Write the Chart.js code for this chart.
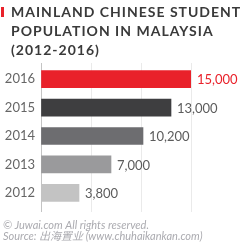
<!DOCTYPE html>
<html>
<head>
<meta charset="utf-8">
<script src="https://cdn.jsdelivr.net/npm/chart.js@4/dist/chart.umd.min.js"></script>
<style>
html,body{margin:0;padding:0;background:#fff;}
#wrap{position:relative;width:250px;height:244px;}
</style>
</head>
<body>
<div id="wrap"><canvas id="c" width="250" height="244"></canvas></div>
<script>
const titleLines = ['MAINLAND CHINESE STUDENT', 'POPULATION IN MALAYSIA', '(2012-2016)'];
const footerLines = ['\u00A9 Juwai.com All rights reserved.', 'Source: \u51FA\u6D77\u7F6E\u4E1A (www.chuhaikankan.com)'];
const years = ['2016', '2015', '2014', '2013', '2012'];
const students = [15000, 13000, 10200, 7000, 3800];
const barColors = ['#e9212a', '#3e3e40', '#6d6d70', '#9a9a9c', '#c3c3c3'];
const labelColors = ['#e9212a', '#5c5c5c', '#5c5c5c', '#5c5c5c', '#5c5c5c'];
const xTickValues = [0, 5000, 10000, 15000];

const textPlugin = {
  id: 'texts',
  beforeDraw(chart) {
    const ctx = chart.ctx;
    ctx.save();
    ctx.fillStyle = '#e9212a';
    ctx.fillRect(1, 7, 3, 10);
    ctx.fillStyle = '#3a3a3a';
    ctx.font = '700 14px Lato, "Noto Sans", sans-serif';
    ctx.letterSpacing = '1px';
    ctx.textBaseline = 'alphabetic';
    ctx.textAlign = 'left';
    const ty = [17, 36, 55];
    titleLines.forEach((t, i) => ctx.fillText(t, 11, ty[i]));
    ctx.letterSpacing = '0px';
    ctx.fillStyle = '#ababb0';
    ctx.font = 'italic 11px Lato, "Noto Sans CJK SC", sans-serif';
    const fy = [229, 240];
    footerLines.forEach((t, i) => ctx.fillText(t, 3, fy[i]));
    ctx.restore();
  },
  afterDatasetsDraw(chart) {
    const ctx = chart.ctx;
    const meta = chart.getDatasetMeta(0);
    ctx.save();
    ctx.font = '13px Lato, sans-serif';
    ctx.textBaseline = 'middle';
    ctx.textAlign = 'left';
    meta.data.forEach((bar, i) => {
      ctx.fillStyle = labelColors[i];
      ctx.fillText(students[i].toLocaleString('en-US'), bar.x + 6, bar.y + 1);
    });
    ctx.restore();
  }
};

const gridColor = (c) => (c.tick && c.tick.value === 0) ? '#c4c4c4' : '#eaeaea';
const ticksCb = (axis) => { axis.ticks = xTickValues.map(v => ({ value: v })); };

new Chart(document.getElementById('c'), {
  type: 'bar',
  data: {
    labels: years,
    datasets: [{
      data: students,
      backgroundColor: barColors,
      borderWidth: 0,
      barThickness: 17
    }]
  },
  options: {
    indexAxis: 'y',
    responsive: false,
    animation: false,
    layout: { padding: { top: 63, bottom: 32, left: 0, right: 59 } },
    plugins: { legend: { display: false }, tooltip: { enabled: false } },
    scales: {
      x: {
        min: 0, max: 15000,
        position: 'bottom',
        afterBuildTicks: ticksCb,
        ticks: { display: false },
        border: { display: false },
        grid: { color: gridColor, lineWidth: 1, tickLength: 5, drawTicks: true }
      },
      x2: {
        axis: 'x',
        min: 0, max: 15000,
        position: 'top',
        afterBuildTicks: ticksCb,
        ticks: { display: false },
        border: { display: false },
        grid: { color: gridColor, lineWidth: 1, tickLength: 2, drawTicks: true }
      },
      y: {
        afterFit(scale) { scale.width = 41; },
        border: { display: false },
        grid: { display: false, drawTicks: false },
        ticks: { color: '#666666', font: { family: 'Lato, sans-serif', size: 13 }, padding: 6 }
      }
    }
  },
  plugins: [textPlugin]
});
</script>
</body>
</html>
